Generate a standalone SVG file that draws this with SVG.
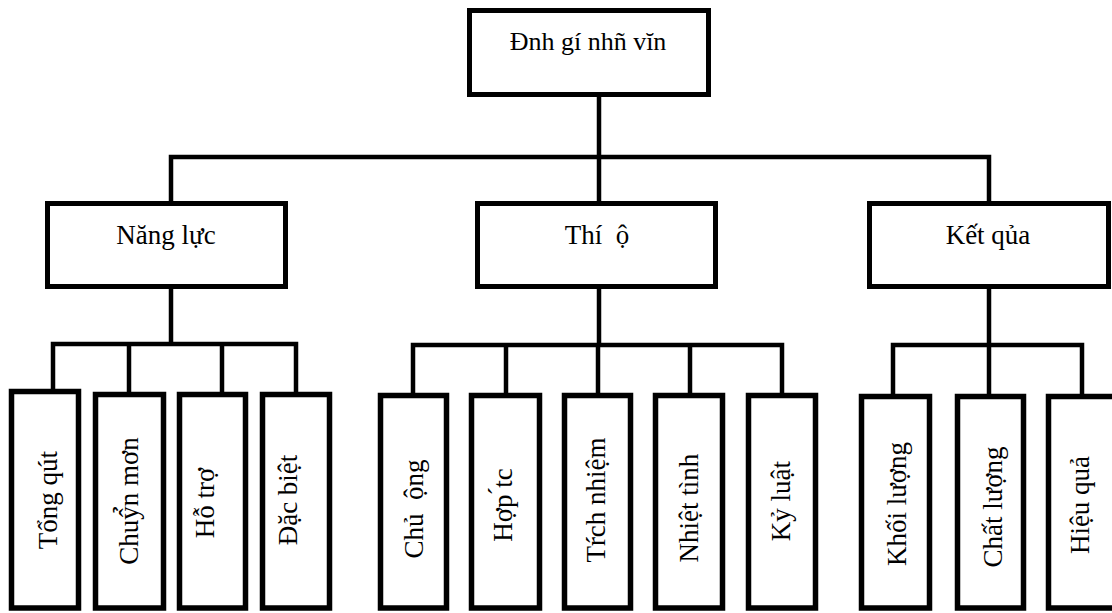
<svg xmlns="http://www.w3.org/2000/svg" width="1112" height="613" viewBox="0 0 1112 613">
  <style>
    .box { fill: #ffffff; stroke: #000000; stroke-width: 5; }
    .leaf { fill: #ffffff; stroke: #000000; stroke-width: 5.5; }
    .lbl { font-family: "Liberation Serif", "Times New Roman", serif; font-size: 27px; fill: #000000; text-anchor: middle; white-space: pre; }
    .top { font-size: 26px; }
    .wire { fill: none; stroke: #000000; stroke-width: 4.5; stroke-linejoin: miter; stroke-linecap: butt; }
  </style>
  <rect width="1112" height="613" fill="#ffffff"/>

  <!-- connectors -->
  <g id="connectors">
    <path class="wire" d="M599,96 V157"/>
    <path class="wire" d="M171,201 V157 H989 V201"/>
    <path class="wire" d="M599,157 V201"/>
    <!-- Năng lực branch -->
    <path class="wire" d="M171,289 V344"/>
    <path class="wire" d="M53,392 V344 H296 V392"/>
    <path class="wire" d="M129,344 V392"/>
    <path class="wire" d="M222,344 V392"/>
    <!-- Thái độ branch -->
    <path class="wire" d="M599,289 V345"/>
    <path class="wire" d="M413,393 V345 H782 V393"/>
    <path class="wire" d="M506,345 V393"/>
    <path class="wire" d="M598,345 V393"/>
    <path class="wire" d="M690,345 V393"/>
    <!-- Kết quả branch -->
    <path class="wire" d="M989,289 V345"/>
    <path class="wire" d="M893,394 V345 H1082 V394"/>
    <path class="wire" d="M989,345 V394"/>
  </g>

  <!-- root -->
  <g id="root">
    <rect class="box" x="469.5" y="10.5" width="239" height="84"/>
    <text class="lbl top" x="588" y="50">Đnh gí nhñ vĭn</text>
  </g>

  <!-- second level -->
  <g id="nang-luc">
    <rect class="box" x="47.5" y="203.5" width="238" height="83"/>
    <text class="lbl" x="166" y="244">Năng lực</text>
  </g>
  <g id="thai-do">
    <rect class="box" x="477.5" y="203.5" width="238" height="83"/>
    <text class="lbl" x="597" y="244">Thí  ộ</text>
  </g>
  <g id="ket-qua">
    <rect class="box" x="869.5" y="203.5" width="239" height="83"/>
    <text class="lbl" x="988" y="244">Kết qủa</text>
  </g>

  <!-- leaves: Năng lực -->
  <g id="tong-quat">
    <rect class="leaf" x="11.5" y="391.5" width="67" height="216.5"/>
    <text class="lbl" transform="translate(57,500) rotate(-90)">Tổng qút</text>
  </g>
  <g id="chuyen-mon">
    <rect class="leaf" x="95.5" y="394.5" width="68" height="213.5"/>
    <text class="lbl" transform="translate(138,501) rotate(-90)">Chuŷ̉n mơn</text>
  </g>
  <g id="ho-tro">
    <rect class="leaf" x="179.5" y="394.5" width="66" height="213.5"/>
    <text class="lbl" transform="translate(214,503) rotate(-90)">Hỗ trợ</text>
  </g>
  <g id="dac-biet">
    <rect class="leaf" x="262.5" y="394.5" width="67" height="213.5"/>
    <text class="lbl" transform="translate(297,500) rotate(-90)">Đặc biệt</text>
  </g>

  <!-- leaves: Thái độ -->
  <g id="chu-dong">
    <rect class="leaf" x="380.5" y="395.5" width="66" height="212.5"/>
    <text class="lbl" transform="translate(423,509) rotate(-90)">Chủ  ộng</text>
  </g>
  <g id="hop-tac">
    <rect class="leaf" x="471.5" y="395.5" width="68" height="212.5"/>
    <text class="lbl" transform="translate(512,505) rotate(-90)">Hợp ́tc</text>
  </g>
  <g id="trach-nhiem">
    <rect class="leaf" x="564.5" y="395.5" width="66" height="212.5"/>
    <text class="lbl" transform="translate(605,500) rotate(-90)">Tŕch nhiệm</text>
  </g>
  <g id="nhiet-tinh">
    <rect class="leaf" x="655.5" y="395.5" width="67" height="212.5"/>
    <text class="lbl" transform="translate(698,508) rotate(-90)">Nhiệt tình</text>
  </g>
  <g id="ky-luat">
    <rect class="leaf" x="748.5" y="395.5" width="67" height="212.5"/>
    <text class="lbl" transform="translate(790,501) rotate(-90)">Kỷ luật</text>
  </g>

  <!-- leaves: Kết quả -->
  <g id="khoi-luong">
    <rect class="leaf" x="861.5" y="396.5" width="68" height="211.5"/>
    <text class="lbl" transform="translate(906,504) rotate(-90)">Khối lượng</text>
  </g>
  <g id="chat-luong">
    <rect class="leaf" x="957.5" y="396.5" width="66" height="211.5"/>
    <text class="lbl" transform="translate(1002,507) rotate(-90)">Chất lượng</text>
  </g>
  <g id="hieu-qua">
    <rect class="leaf" x="1048.5" y="396.5" width="70" height="211.5"/>
    <text class="lbl" transform="translate(1089,505) rotate(-90)">Hiệu quả</text>
  </g>
</svg>
